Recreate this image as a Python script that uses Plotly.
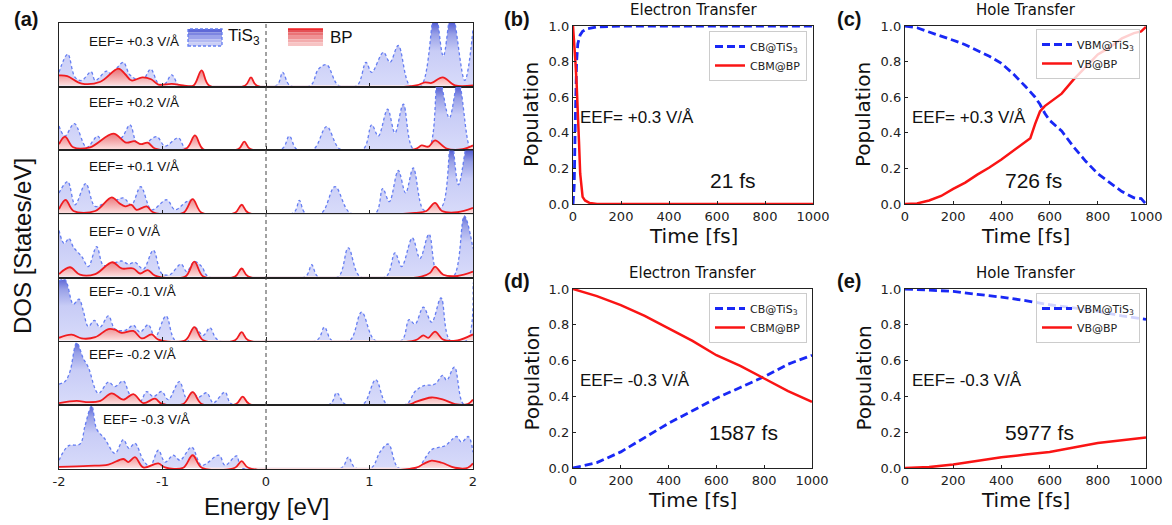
import plotly.graph_objects as go

W, H = 1172, 525
ARIAL = "Liberation Sans, Arial, sans-serif"
DJV = "DejaVu Sans, sans-serif"

# ---------------- DOS data (energy in eV, DOS in arbitrary units; 10 = full sub-panel) -------------
ROW_LABELS = ["EEF= +0.3 V/Å", "EEF= +0.2 V/Å", "EEF= +0.1 V/Å", "EEF= 0 V/Å",
              "EEF= -0.1 V/Å", "EEF= -0.2 V/Å", "EEF= -0.3 V/Å"]

tis3_p03 = [(-2, 2.1), (-1.916, 5.0), (-1.845, 1.3), (-1.78, 0.8), (-1.69, 2.2), (-1.65, 0.8), (-1.54, 2.3),
            (-1.49, 1.8), (-1.44, 2.8), (-1.378, 3.7), (-1.32, 1.8), (-1.25, 0.9), (-1.20, 0.5), (-1.114, 2.6),
            (-1.04, 0.3), (-0.98, 0.2), (-0.911, 1.7), (-0.85, 0.1), (-0.83, 0), (0.10, 0), (0.161, 2.1),
            (0.23, 0), (0.43, 0), (0.506, 2.6), (0.586, 3.3), (0.70, 0), (0.88, 0), (0.966, 3.7), (1.021, 2.1),
            (1.134, 5.3), (1.198, 3.7), (1.278, 6.4), (1.39, 0), (1.50, 0), (1.633, 12), (1.713, 4.7),
            (1.794, 12), (1.92, 0.8), (2.0, 9)]
bp_p03 = [(-2, 1.6), (-1.92, 1.5), (-1.78, 0.3), (-1.60, 0.6), (-1.427, 2.7), (-1.36, 1.8), (-1.30, 0.8),
          (-1.195, 1.3), (-1.11, 1.0), (-1.04, 0.15), (-0.91, 0.25), (-0.80, 0), (-0.70, 0), (-0.622, 2.4),
          (-0.55, 0), (-0.20, 0), (-0.145, 1.3), (-0.09, 0), (1.45, 0), (1.536, 0.5), (1.60, 0.4),
          (1.707, 1.3), (1.826, 0), (2.0, 0)]

tis3_p02 = [(-2, 3.7), (-1.942, 2.1), (-1.852, 4.1), (-1.733, 0.3), (-1.626, 2.1), (-1.572, 0.8), (-1.475, 2.4),
            (-1.40, 1.8), (-1.314, 3.9), (-1.25, 1.05), (-1.18, 0.8), (-1.056, 2.0), (-0.976, 0.5), (-0.847, 1.8),
            (-0.767, 0), (0.15, 0), (0.225, 2.1), (0.296, 0), (0.46, 0), (0.586, 3.6), (0.715, 0), (0.94, 0),
            (1.021, 3.9), (1.085, 2.1), (1.175, 6.4), (1.246, 2.6), (1.327, 7.2), (1.423, 0), (1.568, 0),
            (1.665, 12), (1.771, 5.0), (1.858, 11), (1.971, 0.3), (2.0, 0.5)]
bp_p02 = [(-2, 0.8), (-1.942, 2.0), (-1.862, 0.3), (-1.70, 0.3), (-1.475, 2.5), (-1.35, 1.05), (-1.272, 1.3),
          (-1.208, 0.8), (-1.143, 1.05), (-1.072, 0.1), (-0.77, 0.1), (-0.686, 2.2), (-0.606, 0), (-0.267, 0),
          (-0.209, 1.2), (-0.15, 0), (1.44, 0), (1.504, 0.6), (1.568, 0.4), (1.633, 1.4), (1.746, 0.1),
          (1.90, 0), (2.0, 0.6)]

tis3_p01 = [(-2, 3.2), (-1.916, 5.0), (-1.845, 1.3), (-1.742, 4.7), (-1.652, 1.05), (-1.55, 1.6), (-1.45, 2.0),
            (-1.378, 2.4), (-1.30, 1.3), (-1.21, 4.2), (-1.105, 0.5), (-0.96, 2.1), (-0.879, 0.5), (-0.767, 1.8),
            (-0.71, 2.0), (-0.654, 0), (0.264, 0), (0.322, 2.0), (0.377, 0), (0.538, 0), (0.667, 4.2),
            (0.812, 0), (1.06, 0), (1.127, 3.9), (1.192, 1.8), (1.278, 6.8), (1.349, 3.2), (1.423, 7.2),
            (1.52, 0.5), (1.60, 0.4), (1.70, 1.0), (1.79, 12), (1.86, 4.5), (1.96, 12), (2.0, 11)]
bp_p01 = [(-2, 0.6), (-1.936, 2.1), (-1.86, 0.3), (-1.65, 0.3), (-1.49, 2.5), (-1.42, 1.6), (-1.36, 1.05),
          (-1.30, 1.3), (-1.25, 0.5), (-1.153, 1.05), (-1.09, 0.1), (-0.80, 0), (-0.709, 2.2), (-0.62, 0),
          (-0.30, 0), (-0.235, 1.3), (-0.17, 0), (1.44, 0), (1.55, 0.3), (1.633, 1.6), (1.70, 0.3),
          (1.85, 0.1), (2.0, 0.8)]

tis3_0 = [(-2, 7.4), (-1.95, 5.3), (-1.903, 6.1), (-1.86, 4.7), (-1.78, 3.2), (-1.717, 1.6), (-1.636, 4.8),
          (-1.572, 1.8), (-1.50, 2.0), (-1.395, 2.5), (-1.33, 2.0), (-1.266, 2.3), (-1.185, 1.2), (-1.089, 4.2),
          (-1.008, 0.5), (-0.93, 0.3), (-0.821, 2.0), (-0.767, 0.8), (-0.692, 2.4), (-0.62, 1.6), (-0.557, 0),
          (0.38, 0), (0.441, 1.9), (0.50, 0), (0.70, 0), (0.795, 4.6), (0.908, 0), (1.16, 0), (1.246, 3.8),
          (1.311, 1.6), (1.414, 6.2), (1.488, 2.9), (1.575, 6.8), (1.665, 0), (1.81, 0), (1.916, 9.7),
          (2.0, 4.5)]
bp_0 = [(-2, 0.4), (-1.894, 1.5), (-1.797, 0.3), (-1.65, 0.4), (-1.485, 2.3), (-1.395, 1.3), (-1.282, 1.3),
        (-1.217, 0.5), (-1.143, 1.05), (-1.072, 0.15), (-0.78, 0), (-0.692, 2.4), (-0.606, 0), (-0.30, 0),
        (-0.235, 1.3), (-0.17, 0), (1.50, 0), (1.585, 0.6), (1.633, 1.6), (1.713, 0.3), (1.85, 0.1), (2.0, 0.8)]

tis3_m01 = [(-2, 9.5), (-1.942, 9.7), (-1.862, 5.8), (-1.807, 6.6), (-1.765, 4.7), (-1.717, 2.2), (-1.659, 3.2),
            (-1.604, 2.1), (-1.523, 3.9), (-1.459, 1.8), (-1.36, 1.6), (-1.282, 2.4), (-1.217, 1.3),
            (-1.137, 2.5), (-1.072, 0.5), (-0.966, 3.9), (-0.879, 0), (-0.75, 0), (-0.692, 2.1), (-0.606, 0.8),
            (-0.541, 2.0), (-0.461, 0), (0.49, 0), (0.564, 2.1), (0.634, 0), (0.812, 0), (0.924, 4.5),
            (1.053, 0), (1.311, 0), (1.382, 3.3), (1.44, 2.6), (1.52, 5.3), (1.601, 2.9), (1.691, 6.8),
            (1.778, 0), (1.939, 0), (2.0, 9.2)]
bp_m01 = [(-2, 0.4), (-1.878, 0.9), (-1.781, 0.3), (-1.65, 0.5), (-1.523, 1.8), (-1.459, 1.7), (-1.395, 1.2),
          (-1.282, 1.5), (-1.201, 0.3), (-1.105, 0.95), (-1.04, 0.1), (-0.78, 0), (-0.692, 2.1), (-0.606, 0),
          (-0.30, 0), (-0.235, 1.3), (-0.17, 0), (1.44, 0), (1.52, 0.8), (1.568, 0.4), (1.633, 1.4),
          (1.713, 0.1), (1.85, 0), (2.0, 0.95)]

tis3_m02 = [(-2, 3.2), (-1.942, 3.6), (-1.894, 5.2), (-1.829, 9.8), (-1.765, 7.3), (-1.717, 5.9), (-1.620, 1.7),
            (-1.523, 3.5), (-1.459, 2.8), (-1.378, 3.7), (-1.314, 1.5), (-1.217, 0.4), (-1.153, 2.0),
            (-1.089, 1.2), (-1.008, 2.0), (-0.944, 0.7), (-0.837, 3.6), (-0.767, 0.9), (-0.709, 1.9),
            (-0.654, 1.1), (-0.573, 1.8), (-0.509, 0.2), (-0.396, 1.9), (-0.332, 0), (0.618, 0), (0.683, 1.8),
            (0.763, 0), (0.94, 0), (1.06, 3.9), (1.166, 0), (1.359, 0), (1.44, 2.0), (1.52, 2.9), (1.633, 3.2),
            (1.707, 4.6), (1.746, 3.8), (1.820, 5.9), (1.907, 0), (2.0, 0)]
bp_m02 = [(-2, 0.15), (-1.829, 0.5), (-1.717, 0.3), (-1.60, 0.5), (-1.491, 1.7), (-1.378, 0.7), (-1.282, 1.6),
          (-1.185, 0.15), (-1.072, 0.85), (-1.008, 0.05), (-0.80, 0), (-0.709, 1.9), (-0.62, 0), (-0.29, 0),
          (-0.225, 1.2), (-0.16, 0), (1.40, 0), (1.44, 0.3), (1.60, 1.05), (1.713, 0.7), (1.826, 0), (1.95, 0),
          (2.0, 0.7)]

tis3_m03 = [(-2, 1.2), (-1.91, 3.5), (-1.797, 3.8), (-1.749, 6.7), (-1.684, 9.9), (-1.636, 6.2), (-1.556, 4.6),
            (-1.459, 2.3), (-1.378, 4.5), (-1.324, 3.1), (-1.266, 3.9), (-1.185, 1.2), (-1.121, 0.2),
            (-1.04, 2.8), (-0.976, 0.9), (-0.895, 2.0), (-0.831, 1.2), (-0.718, 3.3), (-0.622, 0.4),
            (-0.454, 2.0), (-0.396, 0.4), (-0.283, 1.9), (-0.235, 0), (0.73, 0), (0.795, 1.7), (0.86, 0),
            (1.02, 0), (1.101, 2.5), (1.182, 3.8), (1.278, 0), (1.47, 0), (1.536, 1.5), (1.601, 2.9),
            (1.681, 3.3), (1.729, 3.5), (1.810, 4.7), (1.842, 5.0), (1.890, 4.1), (1.955, 5.0), (2.0, 2.5)]
bp_m03 = [(-2, 0.15), (-1.717, 0.3), (-1.523, 0.5), (-1.378, 1.4), (-1.33, 0.9), (-1.266, 1.7), (-1.185, 0.05),
          (-1.04, 0.7), (-0.976, 0.05), (-0.80, 0), (-0.709, 2.0), (-0.62, 0), (-0.30, 0), (-0.235, 1.05),
          (-0.17, 0), (1.45, 0), (1.52, 0.6), (1.60, 1.15), (1.70, 0.8), (1.826, 0), (1.95, 0), (2.0, 0.7)]

TIS3_ROWS = [tis3_p03, tis3_p02, tis3_p01, tis3_0, tis3_m01, tis3_m02, tis3_m03]
BP_ROWS = [bp_p03, bp_p02, bp_p01, bp_0, bp_m01, bp_m02, bp_m03]

# ---------------- population dynamics data (time in fs) ----------------
b_t_cb = [0, 5, 10, 15, 20, 25, 30, 40, 60, 100, 200, 1000]
b_cb = [0, 0.1, 0.5, 0.8, 0.9, 0.93, 0.95, 0.97, 0.985, 0.995, 1.0, 1.0]
b_t_cbm = [0, 5, 10, 15, 20, 25, 30, 35, 40, 50, 70, 100, 1000]
b_cbm = [1, 0.92, 0.8, 0.68, 0.55, 0.35, 0.17, 0.08, 0.04, 0.02, 0.005, 0, 0]

c_t = [0, 50, 100, 150, 200, 250, 300, 350, 400, 450, 500, 520, 540, 560, 580, 600, 650, 700, 750,
       800, 850, 900, 950, 980, 1000]
c_vbm = [1.0, 0.99, 0.966, 0.945, 0.92, 0.895, 0.864, 0.83, 0.79, 0.73, 0.66, 0.63, 0.60, 0.56, 0.51,
         0.47, 0.41, 0.32, 0.24, 0.17, 0.12, 0.07, 0.035, 0.03, 0.0]
c_vb = [0, 0.003, 0.02, 0.045, 0.085, 0.12, 0.165, 0.205, 0.25, 0.30, 0.35, 0.37, 0.45, 0.52, 0.55,
        0.57, 0.62, 0.70, 0.77, 0.84, 0.88, 0.93, 0.96, 0.97, 0.995]

de_t = [0, 100, 200, 300, 400, 500, 600, 700, 800, 900, 1000]
d_cb = [0, 0.03, 0.09, 0.17, 0.25, 0.32, 0.39, 0.45, 0.51, 0.58, 0.63]
d_cbm = [1.0, 0.96, 0.91, 0.85, 0.78, 0.71, 0.63, 0.57, 0.50, 0.43, 0.37]
e_vbm = [1.0, 0.995, 0.987, 0.97, 0.955, 0.935, 0.912, 0.895, 0.875, 0.85, 0.83]
e_vb = [0, 0.005, 0.02, 0.04, 0.06, 0.075, 0.09, 0.115, 0.14, 0.155, 0.17]

TIME_TICKS = [0, 200, 400, 600, 800, 1000]
POP_TICKS = [0, 0.2, 0.4, 0.6, 0.8, 1.0]
E_TICKS = [-2, -1, 0, 1, 2]
E_TICKTEXT = ["-2", "-1", "0", "1", "2"]


def px(x):
    return x / W


def py(y):
    return 1 - y / H


BLUE_CS = [[0, "rgb(216,219,250)"], [0.55, "rgb(200,204,246)"], [0.82, "rgb(152,160,231)"],
           [1, "rgb(86,96,212)"]]
RED_CS = [[0, "rgb(252,222,222)"], [1, "rgb(232,100,105)"]]
BLUE_LINE = "rgb(100,125,242)"
RED_LINE = "rgb(240,28,32)"
P_BLUE = "rgb(25,40,245)"
P_RED = "rgb(250,20,20)"

fig = go.Figure()
layout = dict(template="none", width=W, height=H, margin=dict(l=0, r=0, t=0, b=0, pad=0),
              autosize=False, paper_bgcolor="white", plot_bgcolor="white", showlegend=True,
              font=dict(family=DJV, color="#222"))
annotations = []
shapes = []

# ---------------- panel (a) ----------------
A_L, A_R, A_T, A_B = 59, 473, 23, 469
row_h = (A_B - A_T) / 7
label_x = [87, 87, 87, 87, 87, 87, 101]
label_dy = [18, 16, 16, 17, 14, 13, 14]
for i in range(7):
    s = "" if i == 0 else str(i + 1)
    top = A_T + i * row_h
    bot = top + row_h
    tis, bp = TIS3_ROWS[i], BP_ROWS[i]
    fig.add_trace(go.Scatter(
        x=[p[0] for p in tis], y=[p[1] for p in tis], xaxis="x" + s, yaxis="y" + s,
        mode="lines", line=dict(color=BLUE_LINE, width=1.3, dash="3px,2.5px", shape="spline", smoothing=1),
        fill="tozeroy", fillgradient=dict(type="vertical", colorscale=BLUE_CS, start=0, stop=10),
        showlegend=False, hoverinfo="skip"))
    fig.add_trace(go.Scatter(
        x=[p[0] for p in bp], y=[p[1] for p in bp], xaxis="x" + s, yaxis="y" + s,
        mode="lines", line=dict(color=RED_LINE, width=1.8, shape="spline", smoothing=1),
        fill="tozeroy", fillgradient=dict(type="vertical", colorscale=RED_CS, start=0, stop=3),
        showlegend=False, hoverinfo="skip"))
    layout["xaxis" + s] = dict(domain=[px(A_L), px(A_R)], range=[-2, 2], anchor="y" + s,
                               showline=True, mirror=True, linecolor="#222", linewidth=1.3,
                               ticks="inside", ticklen=4, tickcolor="#222", tickvals=E_TICKS,
                               ticktext=E_TICKTEXT, showticklabels=(i == 6), automargin=False,
                               tickfont=dict(family=DJV, size=13, color="#222"),
                               showgrid=False, zeroline=False)
    layout["yaxis" + s] = dict(domain=[py(bot), py(top)], range=[-0.2, 10], anchor="x" + s,
                               showline=True, mirror=True, linecolor="#222", linewidth=1.3,
                               automargin=False, showticklabels=False, ticks="", showgrid=False,
                               zeroline=False)
    annotations.append(dict(text=ROW_LABELS[i], xref="paper", yref="paper", x=px(label_x[i]),
                            y=py(top + label_dy[i]), xanchor="left", yanchor="middle", showarrow=False,
                            font=dict(family=ARIAL, size=13.5, color="#111")))

shapes.append(dict(type="line", xref="x", yref="paper", x0=0, x1=0, y0=py(A_B), y1=py(A_T),
                   line=dict(color="#444", width=1, dash="4px,3px")))

# custom legend of panel (a)
blue_stripes = ["rgb(95,105,215)", "rgb(125,133,225)", "rgb(155,162,235)", "rgb(180,186,242)", "rgb(202,206,246)"]
red_stripes = ["rgb(228,80,85)", "rgb(234,115,118)", "rgb(239,145,147)", "rgb(243,172,173)", "rgb(247,195,195)"]
sw_t, sw_b = 29, 46
stp = (sw_b - sw_t) / 5
for k in range(5):
    shapes.append(dict(type="rect", xref="paper", yref="paper", x0=px(188), x1=px(222),
                       y0=py(sw_t + (k + 1) * stp), y1=py(sw_t + k * stp), fillcolor=blue_stripes[k],
                       line=dict(width=0), layer="above"))
    shapes.append(dict(type="rect", xref="paper", yref="paper", x0=px(288), x1=px(323),
                       y0=py(sw_t + (k + 1) * stp), y1=py(sw_t + k * stp), fillcolor=red_stripes[k],
                       line=dict(width=0), layer="above"))
shapes.append(dict(type="rect", xref="paper", yref="paper", x0=px(188), x1=px(222), y0=py(sw_b), y1=py(sw_t),
                   line=dict(color=BLUE_LINE, width=1.3, dash="3px,2px"), fillcolor="rgba(0,0,0,0)"))
shapes.append(dict(type="line", xref="paper", yref="paper", x0=px(288), x1=px(323), y0=py(sw_t), y1=py(sw_t),
                   line=dict(color=RED_LINE, width=1.3)))
annotations.append(dict(text="TiS<sub>3</sub>", xref="paper", yref="paper", x=px(226), y=py(37),
                        xanchor="left", yanchor="middle", showarrow=False,
                        font=dict(family=ARIAL, size=17, color="#111")))
annotations.append(dict(text="BP", xref="paper", yref="paper", x=px(328), y=py(37),
                        xanchor="left", yanchor="middle", showarrow=False,
                        font=dict(family=ARIAL, size=17, color="#111")))

annotations.append(dict(text="Energy [eV]", xref="paper", yref="paper", x=px(266), y=py(506),
                        xanchor="center", yanchor="middle", showarrow=False,
                        font=dict(family=ARIAL, size=24, color="#111")))
annotations.append(dict(text="DOS [States/eV]", xref="paper", yref="paper", x=px(22), y=py(246),
                        xanchor="center", yanchor="middle", showarrow=False, textangle=-90,
                        font=dict(family=ARIAL, size=24, color="#111")))

# ---------------- panels (b)-(e) ----------------
panels = [
    dict(ax="8", dom=(573, 813, 26, 204), lg="legend", lgpos=(807, 31), title="Electron Transfer",
         series=[(b_t_cb, b_cb, "CB@TiS<sub>3</sub>", P_BLUE, "dash"), (b_t_cbm, b_cbm, "CBM@BP", P_RED, "solid")],
         eef="EEF= +0.3 V/Å", fs="21 fs", fspos=(733, 180), lab="(b)", labpos=(517, 19)),
    dict(ax="9", dom=(905, 1146, 26, 204), lg="legend2", lgpos=(1140, 29), title="Hole Transfer",
         series=[(c_t, c_vbm, "VBM@TiS<sub>3</sub>", P_BLUE, "dash"), (c_t, c_vb, "VB@BP", P_RED, "solid")],
         eef="EEF= +0.3 V/Å", fs="726 fs", fspos=(1033, 180), lab="(c)", labpos=(849, 19)),
    dict(ax="10", dom=(573, 812, 289, 468), lg="legend3", lgpos=(807, 293), title="Electron Transfer",
         series=[(de_t, d_cb, "CB@TiS<sub>3</sub>", P_BLUE, "dash"), (de_t, d_cbm, "CBM@BP", P_RED, "solid")],
         eef="EEF= -0.3 V/Å", fs="1587 fs", fspos=(743, 432), lab="(d)", labpos=(517, 281)),
    dict(ax="11", dom=(905, 1146, 289, 468), lg="legend4", lgpos=(1140, 293), title="Hole Transfer",
         series=[(de_t, e_vbm, "VBM@TiS<sub>3</sub>", P_BLUE, "dash"), (de_t, e_vb, "VB@BP", P_RED, "solid")],
         eef="EEF= -0.3 V/Å", fs="5977 fs", fspos=(1039, 432), lab="(e)", labpos=(849, 281)),
]

for p in panels:
    a = p["ax"]
    l, r, t, b = p["dom"]
    for (tx, yv, name, col, dash) in p["series"]:
        fig.add_trace(go.Scatter(
            x=tx, y=yv, xaxis="x" + a, yaxis="y" + a, mode="lines", name=name, legend=p["lg"],
            line=dict(color=col, width=2.8 if dash == "dash" else 2.5,
                      dash="8px,4px" if dash == "dash" else "solid"),
            hoverinfo="skip"))
    layout["xaxis" + a] = dict(domain=[px(l), px(r)], range=[0, 1000], anchor="y" + a,
                               showline=True, mirror=True, linecolor="#222", linewidth=1.3,
                               ticks="inside", ticklen=3, tickcolor="#222", tickvals=TIME_TICKS,
                               tickfont=dict(family=DJV, size=13, color="#222"), automargin=False,
                               showgrid=False, zeroline=False)
    layout["yaxis" + a] = dict(domain=[py(b), py(t)], range=[0, 1], anchor="x" + a,
                               showline=True, mirror=True, linecolor="#222", linewidth=1.3,
                               ticks="inside", ticklen=3, tickcolor="#222", tickvals=POP_TICKS,
                               tickformat=".1f", tickfont=dict(family=DJV, size=13, color="#222"),
                               automargin=False, showgrid=False, zeroline=False)
    lx, ly = p["lgpos"]
    layout[p["lg"]] = dict(x=px(lx), y=py(ly), xanchor="right", yanchor="top",
                           bgcolor="rgba(255,255,255,0.8)", bordercolor="#cccccc", borderwidth=1,
                           font=dict(family=DJV, size=11, color="#222"), itemwidth=30,
                           tracegroupgap=0)
    cx = (l + r) / 2
    annotations.append(dict(text=p["title"], xref="paper", yref="paper", x=px(cx), y=py(t - 16),
                            xanchor="center", yanchor="middle", showarrow=False,
                            font=dict(family=DJV, size=15, color="#111")))
    annotations.append(dict(text="Time [fs]", xref="paper", yref="paper", x=px(cx), y=py(b + 32),
                            xanchor="center", yanchor="middle", showarrow=False,
                            font=dict(family=DJV, size=20, color="#111")))
    annotations.append(dict(text="Population", xref="paper", yref="paper", x=px(l - 42), y=py((t + b) / 2),
                            xanchor="center", yanchor="middle", showarrow=False, textangle=-90,
                            font=dict(family=DJV, size=20, color="#111")))
    annotations.append(dict(text=p["eef"], xref="paper", yref="paper", x=px(l + 5),
                            y=py(t + 91), xanchor="left", yanchor="middle", showarrow=False,
                            font=dict(family=ARIAL, size=17, color="#111")))
    fx, fy = p["fspos"]
    annotations.append(dict(text=p["fs"], xref="paper", yref="paper", x=px(fx), y=py(fy),
                            xanchor="center", yanchor="middle", showarrow=False,
                            font=dict(family=ARIAL, size=21, color="#111")))
    bx, by = p["labpos"]
    annotations.append(dict(text="<b>" + p["lab"] + "</b>", xref="paper", yref="paper", x=px(bx), y=py(by),
                            xanchor="center", yanchor="middle", showarrow=False,
                            font=dict(family=ARIAL, size=20, color="#111")))

annotations.append(dict(text="<b>(a)</b>", xref="paper", yref="paper", x=px(26), y=py(19),
                        xanchor="center", yanchor="middle", showarrow=False,
                        font=dict(family=ARIAL, size=20, color="#111")))

layout["annotations"] = annotations
layout["shapes"] = shapes
fig.update_layout(**layout)
fig.write_html("out.html", config={"displayModeBar": False},
               post_script="document.body.style.margin='0px';document.body.style.overflow='hidden';")
